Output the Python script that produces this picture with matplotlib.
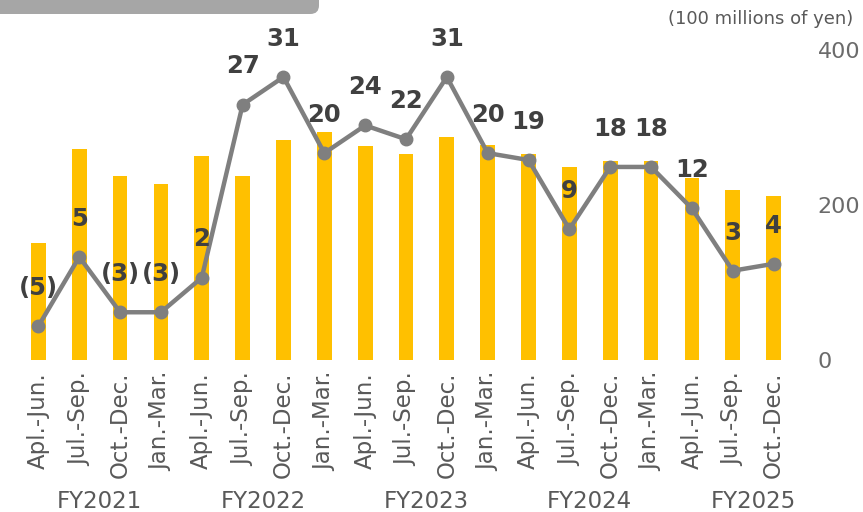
import matplotlib.pyplot as plt
from matplotlib.patches import FancyBboxPatch
from matplotlib.transforms import blended_transform_factory

# quarters and fiscal years
quarters = ['Apl.-Jun.', 'Jul.-Sep.', 'Oct.-Dec.', 'Jan.-Mar.'] * 4 + ['Apl.-Jun.', 'Jul.-Sep.', 'Oct.-Dec.']
fy_labels = ['FY2021', 'FY2022', 'FY2023', 'FY2024', 'FY2025']
fy_centers = [1.5, 5.5, 9.5, 13.5, 17.5]

# bars: right axis (100 millions of yen)
sales = [151, 272, 237, 227, 263, 237, 284, 294, 276, 266,
         288, 277, 266, 249, 257, 257, 235, 219, 212]
# line: profit (labels shown on chart)
profit = [-5, 5, -3, -3, 2, 27, 31, 20, 24, 22,
          31, 20, 19, 9, 18, 18, 12, 3, 4]

BAR = '#FFC000'
LINE = '#7F7F7F'
LABEL = '#404040'
TXT = '#595959'

fig = plt.figure(figsize=(8.63, 5.12), dpi=100)
W, H = 863, 512
ax = fig.add_axes([18 / W, (H - 360) / H, 776 / W, 310 / H])

x = list(range(len(sales)))
ax.bar(x, sales, width=0.36, color=BAR, zorder=2)
ax.set_xlim(-0.5, len(sales) - 0.5)
ax.set_ylim(0, 400)
ax.set_xticks(x)
ax.set_xticklabels(quarters, rotation=90)
ax.tick_params(axis='x', length=0, pad=8.5, labelsize=16.5, labelcolor=TXT)
for s in ax.spines.values():
    s.set_visible(False)

# line on a hidden twin axis
ax2 = ax.twinx()
ax2.set_ylim(-9.9, 34.9)
ax2.set_yticks([])
for s in ax2.spines.values():
    s.set_visible(False)

# twinx moves the primary ticks to the left, so put them back on the right
ax.set_yticks([0, 200, 400])
ax.yaxis.tick_right()
ax.tick_params(axis='y', length=0, pad=17, labelsize=16, labelcolor='#6B6B6B')

ax2.plot(x, profit, color=LINE, lw=3.2, marker='o', markersize=9,
         markerfacecolor=LINE, markeredgecolor=LINE, zorder=3)
for xi, v in zip(x, profit):
    txt = f'({abs(v)})' if v < 0 else str(v)
    ax2.annotate(txt, (xi, v), xytext=(0, 27.5), textcoords='offset points',
                 ha='center', va='center', fontsize=17.5, fontweight='bold',
                 color=LABEL, annotation_clip=False)

# fiscal year labels
tr = blended_transform_factory(ax.transData, fig.transFigure)
for c, lab in zip(fy_centers, fy_labels):
    ax.text(c, 10 / H, lab, transform=tr, ha='center', va='center',
            fontsize=16.5, color=TXT)

fig.text(853 / W, 1 - 19 / H, '(100 millions of yen)', ha='right', va='center',
         fontsize=13, color=TXT)

# grey banner cropped at top-left
banner = FancyBboxPatch((-30 / W, 1 - 14 / H), 349 / W, 60 / H,
                        boxstyle='round,pad=0,rounding_size=0.01',
                        transform=fig.transFigure, facecolor='#A6A6A6',
                        edgecolor='none', mutation_aspect=W / H, zorder=0)
fig.patches.append(banner)

fig.savefig('out.png', dpi=100)
